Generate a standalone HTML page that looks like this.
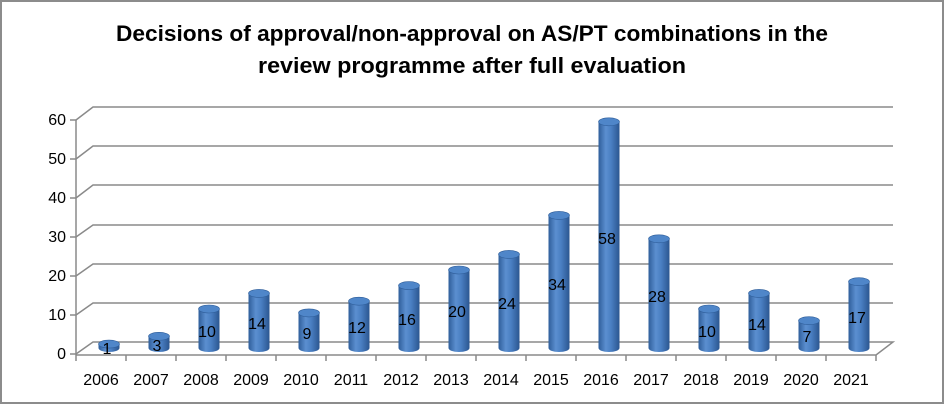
<!DOCTYPE html>
<html><head><meta charset="utf-8"><style>
html,body{margin:0;padding:0;background:#fff}
svg{display:block}
text{font-family:"Liberation Sans",sans-serif}
</style></head><body>
<svg width="945" height="405" viewBox="0 0 945 405" xmlns="http://www.w3.org/2000/svg">
<defs>
<linearGradient id="cyl" x1="0" x2="1" y1="0" y2="0">
<stop offset="0" stop-color="#2f5e9a"/>
<stop offset="0.35" stop-color="#5b8fd0"/>
<stop offset="0.6" stop-color="#4a7fc2"/>
<stop offset="1" stop-color="#2b5690"/>
</linearGradient>
<g id="c"><path d="M-10.5 0 V100 A10.5 4 0 0 0 10.5 100 V0 Z"/></g>
</defs>
<rect x="1" y="1" width="942" height="402" fill="#fff" stroke="#8c8c8c" stroke-width="2"/>
<text x="472" y="41" text-anchor="middle" font-size="22" font-weight="bold" fill="#000" textLength="712" lengthAdjust="spacingAndGlyphs">Decisions of approval/non-approval on AS/PT combinations in the</text>
<text x="472" y="73" text-anchor="middle" font-size="22" font-weight="bold" fill="#000" textLength="428" lengthAdjust="spacingAndGlyphs">review programme after full evaluation</text>
<g stroke="#8a8a8a" stroke-width="1.5" fill="none">
<path d="M76 120 L93 107 L893 107"/>
<path d="M76 159 L93 146 L893 146"/>
<path d="M76 198 L93 185 L893 185"/>
<path d="M76 237 L93 225 L893 225"/>
<path d="M76 276 L93 264 L893 264"/>
<path d="M76 315 L93 303 L893 303"/>
<path d="M76 354 L93 342 L893 342 L876 355 L76 355"/>
<path d="M76 120 L76 355"/>
<path d="M70 120H76M70 159H76M70 198H76M70 237H76M70 276H76M70 315H76M70 354H76"/>
<path d="M76 355v6M126 355v6M176 355v6M226 355v6M276 355v6M326 355v6M376 355v6M426 355v6M476 355v6M526 355v6M576 355v6M626 355v6M676 355v6M726 355v6M776 355v6M826 355v6M876 355v6"/>
</g>
<g font-size="16" fill="#000" text-anchor="end">
<text x="66" y="125">60</text><text x="66" y="164">50</text><text x="66" y="203">40</text>
<text x="66" y="242">30</text><text x="66" y="281">20</text><text x="66" y="320">10</text><text x="66" y="359">0</text>
</g>
<g font-size="16" fill="#000" text-anchor="middle">
<text x="101" y="385">2006</text><text x="151" y="385">2007</text><text x="201" y="385">2008</text><text x="251" y="385">2009</text>
<text x="301" y="385">2010</text><text x="351" y="385">2011</text><text x="401" y="385">2012</text><text x="451" y="385">2013</text>
<text x="501" y="385">2014</text><text x="551" y="385">2015</text><text x="601" y="385">2016</text><text x="651" y="385">2017</text>
<text x="701" y="385">2018</text><text x="751" y="385">2019</text><text x="801" y="385">2020</text><text x="851" y="385">2021</text>
</g>
<g fill="url(#cyl)">
<path d="M98.5 344.1V348A10.5 4 0 0 0 119.5 348V344.1Z"/>
<path d="M148.5 336.3V348A10.5 4 0 0 0 169.5 348V336.3Z"/>
<path d="M198.5 309V348A10.5 4 0 0 0 219.5 348V309Z"/>
<path d="M248.5 293.4V348A10.5 4 0 0 0 269.5 348V293.4Z"/>
<path d="M298.5 312.9V348A10.5 4 0 0 0 319.5 348V312.9Z"/>
<path d="M348.5 301.2V348A10.5 4 0 0 0 369.5 348V301.2Z"/>
<path d="M398.5 285.6V348A10.5 4 0 0 0 419.5 348V285.6Z"/>
<path d="M448.5 270V348A10.5 4 0 0 0 469.5 348V270Z"/>
<path d="M498.5 254.4V348A10.5 4 0 0 0 519.5 348V254.4Z"/>
<path d="M548.5 215.4V348A10.5 4 0 0 0 569.5 348V215.4Z"/>
<path d="M598.5 121.8V348A10.5 4 0 0 0 619.5 348V121.8Z"/>
<path d="M648.5 238.8V348A10.5 4 0 0 0 669.5 348V238.8Z"/>
<path d="M698.5 309V348A10.5 4 0 0 0 719.5 348V309Z"/>
<path d="M748.5 293.4V348A10.5 4 0 0 0 769.5 348V293.4Z"/>
<path d="M798.5 320.7V348A10.5 4 0 0 0 819.5 348V320.7Z"/>
<path d="M848.5 281.7V348A10.5 4 0 0 0 869.5 348V281.7Z"/>
</g>
<g fill="#4f86c9" stroke="#2f5e9a" stroke-width="0.6">
<ellipse cx="109" cy="344.1" rx="10.5" ry="4"/>
<ellipse cx="159" cy="336.3" rx="10.5" ry="4"/>
<ellipse cx="209" cy="309" rx="10.5" ry="4"/>
<ellipse cx="259" cy="293.4" rx="10.5" ry="4"/>
<ellipse cx="309" cy="312.9" rx="10.5" ry="4"/>
<ellipse cx="359" cy="301.2" rx="10.5" ry="4"/>
<ellipse cx="409" cy="285.6" rx="10.5" ry="4"/>
<ellipse cx="459" cy="270" rx="10.5" ry="4"/>
<ellipse cx="509" cy="254.4" rx="10.5" ry="4"/>
<ellipse cx="559" cy="215.4" rx="10.5" ry="4"/>
<ellipse cx="609" cy="121.8" rx="10.5" ry="4"/>
<ellipse cx="659" cy="238.8" rx="10.5" ry="4"/>
<ellipse cx="709" cy="309" rx="10.5" ry="4"/>
<ellipse cx="759" cy="293.4" rx="10.5" ry="4"/>
<ellipse cx="809" cy="320.7" rx="10.5" ry="4"/>
<ellipse cx="859" cy="281.7" rx="10.5" ry="4"/>
</g>
<g font-size="16" fill="#000" text-anchor="middle">
<text x="107" y="354">1</text>
<text x="157" y="351">3</text>
<text x="207" y="337">10</text>
<text x="257" y="329">14</text>
<text x="307" y="339">9</text>
<text x="357" y="333">12</text>
<text x="407" y="325">16</text>
<text x="457" y="317">20</text>
<text x="507" y="309">24</text>
<text x="557" y="290">34</text>
<text x="607" y="244">58</text>
<text x="657" y="302">28</text>
<text x="707" y="337">10</text>
<text x="757" y="330">14</text>
<text x="807" y="342">7</text>
<text x="857" y="323">17</text>
</g>
</svg>
</body></html>
